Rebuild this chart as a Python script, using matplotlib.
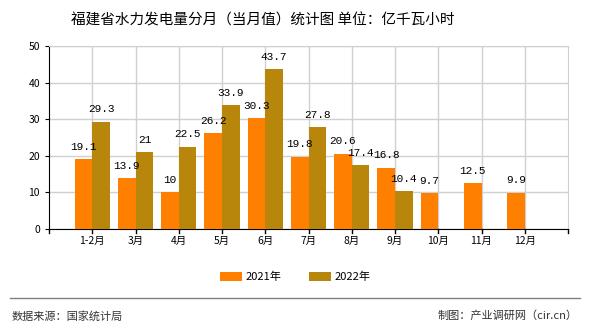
import matplotlib
matplotlib.use("Agg")
import matplotlib.pyplot as plt
import numpy as np

plt.rcParams['font.family'] = ['Noto Sans CJK SC', 'DejaVu Sans']

months = ["1-2月", "3月", "4月", "5月", "6月", "7月", "8月", "9月", "10月", "11月", "12月"]
values_2021 = [19.1, 13.9, 10, 26.2, 30.3, 19.8, 20.6, 16.8, 9.7, 12.5, 9.9]
values_2022 = [29.3, 21, 22.5, 33.9, 43.7, 27.8, 17.4, 10.4]
series_names = ["2021年", "2022年"]
colors = ["#FF8000", "#B8860B"]

fig = plt.figure(figsize=(5.9, 3.3), dpi=100)
ax = fig.add_axes([49 / 590, 1 - 229 / 330, (568 - 49) / 590, (229 - 46) / 330])

x = np.arange(len(months))
w = 0.41
x22 = np.arange(len(values_2022))
b1 = ax.bar(x - w / 2, values_2021, w, color=colors[0], label=series_names[0], zorder=3)
b2 = ax.bar(x22 + w / 2, values_2022, w, color=colors[1], label=series_names[1], zorder=3)

mono = ['Liberation Mono', 'DejaVu Sans Mono']
for xi, v in zip(x, values_2021):
    ax.text(xi - w / 2, v + 2, f"{v:g}", ha="center", va="bottom", fontsize=8,
            family=mono, zorder=4)
for xi, v in zip(x22, values_2022):
    ax.text(xi + w / 2, v + 2, f"{v:g}", ha="center", va="bottom", fontsize=8,
            family=mono, zorder=4)

ax.set_xlim(-1, len(months))
ax.set_ylim(0, 50)
ax.set_yticks(range(0, 51, 10))
ax.set_xticks(x)
ax.set_xticklabels(months)
ax.tick_params(axis="both", labelsize=7.5, length=3, direction="out", color="black")
ax.tick_params(axis="x", length=0, pad=5)
for xv in [-1, len(months)]:
    ax.plot([xv, xv], [0, -1.2], color="black", lw=1, clip_on=False)
for xv in x:
    ax.plot([xv, xv], [0, -1.2], color="black", lw=1, clip_on=False)

ax.grid(True, color="#d0d0d0", lw=1, zorder=0)
ax.spines["top"].set_color("#d0d0d0")
ax.spines["right"].set_color("#d0d0d0")
ax.spines["left"].set_color("black")
ax.spines["bottom"].set_color("black")

fig.text(0.445, 1 - 20 / 330, "福建省水力发电量分月（当月值）统计图 单位：亿千瓦小时",
         ha="center", va="center", fontsize=10.5)

fig.legend(handles=[b1, b2], labels=series_names, loc="center",
           bbox_to_anchor=(0.5, 1 - 277 / 330), ncol=2, frameon=False,
           fontsize=8, handlelength=2.0, handleheight=0.8, columnspacing=2.5,
           handletextpad=0.3)

fig.add_artist(plt.Line2D([10 / 590, 580 / 590], [1 - 298 / 330, 1 - 298 / 330],
                          color="#808080", lw=1))
fig.text(12 / 590, 1 - 316 / 330, "数据来源：国家统计局", ha="left", va="center",
         fontsize=8, color="#333333")
fig.text(578 / 590, 1 - 316 / 330, "制图：产业调研网（cir.cn）", ha="right", va="center",
         fontsize=8, color="#333333")

fig.savefig("out.png", dpi=100)
